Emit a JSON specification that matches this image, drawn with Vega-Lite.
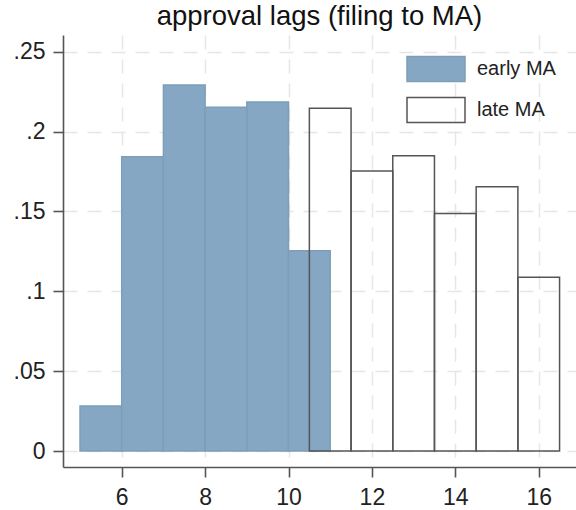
{
  "$schema": "https://vega.github.io/schema/vega-lite/v6.json",
  "autosize": "none",
  "width": 513,
  "height": 432,
  "padding": {"left": 63, "top": 35, "right": 0, "bottom": 43},
  "background": "white",
  "title": {
    "text": "approval lags (filing to MA)",
    "font": "Liberation Sans",
    "fontSize": 27.5,
    "fontWeight": "normal",
    "color": "#111111",
    "anchor": "middle",
    "baseline": "alphabetic",
    "offset": -17
  },
  "data": {
    "values": [
      {"group": "early MA", "start": 5, "end": 6, "density": 0.0282},
      {"group": "early MA", "start": 6, "end": 7, "density": 0.1842},
      {"group": "early MA", "start": 7, "end": 8, "density": 0.2292},
      {"group": "early MA", "start": 8, "end": 9, "density": 0.2152},
      {"group": "early MA", "start": 9, "end": 10, "density": 0.2185},
      {"group": "early MA", "start": 10, "end": 11, "density": 0.1254},
      {"group": "late MA", "start": 10.5, "end": 11.5, "density": 0.2146},
      {"group": "late MA", "start": 11.5, "end": 12.5, "density": 0.1753},
      {"group": "late MA", "start": 12.5, "end": 13.5, "density": 0.1849},
      {"group": "late MA", "start": 13.5, "end": 14.5, "density": 0.1488},
      {"group": "late MA", "start": 14.5, "end": 15.5, "density": 0.1655},
      {"group": "late MA", "start": 15.5, "end": 16.5, "density": 0.1088}
    ]
  },
  "mark": {"type": "bar", "strokeWidth": 1.5, "fillOpacity": 1},
  "encoding": {
    "x": {
      "field": "start",
      "type": "quantitative",
      "scale": {"domain": [4.592, 16.894], "nice": false, "zero": false},
      "axis": {
        "title": null,
        "values": [6, 8, 10, 12, 14, 16],
        "grid": true,
        "gridColor": "#e6e6e6",
        "gridDash": [14, 10],
        "gridWidth": 1.5,
        "domainColor": "#555555",
        "domainWidth": 1.6,
        "tickColor": "#555555",
        "tickWidth": 1.6,
        "tickSize": 10,
        "labelPadding": 9,
        "labelFont": "Liberation Sans",
        "labelFontSize": 23,
        "labelColor": "#222222",
        "labelFlush": false
      }
    },
    "x2": {"field": "end"},
    "y": {
      "field": "density",
      "type": "quantitative",
      "scale": {"domain": [-0.01, 0.2605], "nice": false, "zero": false},
      "axis": {
        "title": null,
        "values": [0, 0.05, 0.1, 0.15, 0.2, 0.25],
        "format": ".2~f",
        "labelExpr": "datum.value == 0 ? '0' : slice(datum.label, 1)",
        "grid": true,
        "gridColor": "#e6e6e6",
        "gridDash": [14, 10],
        "gridWidth": 1.5,
        "domainColor": "#555555",
        "domainWidth": 1.6,
        "tickColor": "#555555",
        "tickWidth": 1.6,
        "tickSize": 10,
        "labelPadding": 8,
        "labelFont": "Liberation Sans",
        "labelFontSize": 23,
        "labelColor": "#222222",
        "labelFlush": false
      }
    },
    "y2": {"datum": 0},
    "fill": {
      "field": "group",
      "type": "nominal",
      "scale": {"domain": ["early MA", "late MA"], "range": ["#86a7c3", "rgba(255,255,255,0)"]},
      "legend": {
        "title": null,
        "orient": "none",
        "legendX": 359.5,
        "legendY": 20.5,
        "padding": 0,
        "symbolType": "M-2.32,-1H2.32V1H-2.32Z",
        "symbolSize": 625,
        "symbolStrokeWidth": 1.5,
        "symbolOpacity": 1,
        "rowPadding": 10,
        "labelOffset": 27.5,
        "labelFont": "Liberation Sans",
        "labelFontSize": 20,
        "labelColor": "#222222"
      }
    },
    "stroke": {
      "field": "group",
      "type": "nominal",
      "scale": {"domain": ["early MA", "late MA"], "range": ["#7d9eb9", "#555555"]},
      "legend": null
    }
  },
  "config": {"view": {"stroke": null}}
}
